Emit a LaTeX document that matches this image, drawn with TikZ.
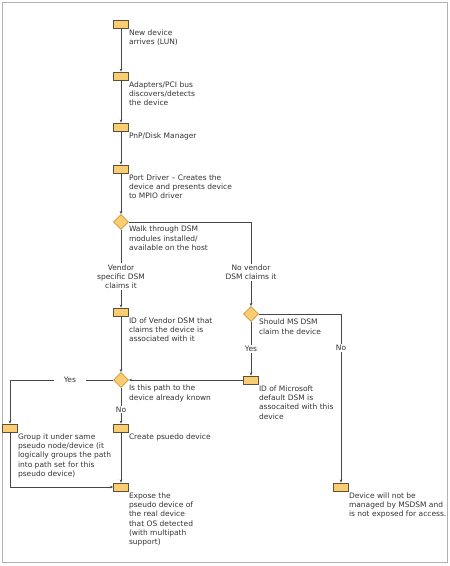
\documentclass[tikz,border=0pt]{standalone}
\usepackage{fontspec}
\newfontfamily\flowfont{DejaVu Sans}
\usetikzlibrary{shapes.geometric,arrows.meta}
\definecolor{boxfill}{RGB}{250,206,112}
\definecolor{boxline}{RGB}{95,80,55}
\definecolor{dialine}{RGB}{205,150,60}
\tikzset{
  stepbox/.style={draw=boxline,fill=boxfill,minimum width=15pt,minimum height=8pt,inner sep=0pt,line width=0.6pt},
  choice/.style={diamond,draw=dialine,fill=boxfill,minimum width=15pt,minimum height=15pt,inner sep=0pt,line width=0.6pt},
  txt/.style={anchor=north west,align=left,inner xsep=0pt,inner ysep=1pt,text=black!80,font=\flowfont\fontsize{7.5}{9.3}\selectfont},
  lbl/.style={fill=white,align=center,inner sep=1pt,text=black!80,font=\flowfont\fontsize{7.5}{9.3}\selectfont},
  flow/.style={draw=gray!55!black,line width=0.6pt}
}
\begin{document}
\begin{tikzpicture}[x=1pt,y=-1pt,>={Stealth[length=3.2pt,width=2.6pt]}]
  \useasboundingbox (0,0) rectangle (450,566);
  \draw[gray!60,line width=0.8pt] (2,2) rectangle (447,562);

  \node[stepbox] (new) at (121,24) {};
  \node[stepbox] (adapt) at (121,76) {};
  \node[stepbox] (pnp) at (121,127) {};
  \node[stepbox] (port) at (121,169) {};
  \node[choice] (walk) at (121,222) {};
  \node[stepbox] (vendorid) at (121,312) {};
  \node[choice] (msdsm) at (251,314) {};
  \node[stepbox] (msid) at (251,380) {};
  \node[choice] (known) at (121,380) {};
  \node[stepbox] (group) at (10,428) {};
  \node[stepbox] (create) at (121,428) {};
  \node[stepbox] (expose) at (121,487) {};
  \node[stepbox] (nomng) at (341,487) {};

  \node[txt] (newtxt) at (new.south east) {New device\\arrives (LUN)};
  \node[txt] (adapttxt) at (adapt.south east) {Adapters/PCI bus\\discovers/detects\\the device};
  \node[txt] (pnptxt) at (pnp.south east) {PnP/Disk Manager};
  \node[txt] (porttxt) at (port.south east) {Port Driver – Creates the\\device and presents device\\to MPIO driver};
  \node[txt] (walktxt) at ([yshift=-3pt]walk.east) {Walk through DSM\\modules installed/\\available on the host};
  \node[txt] (vendoridtxt) at (vendorid.south east) {ID of Vendor DSM that\\claims the device is\\associated with it};
  \node[txt] (msdsmtxt) at ([yshift=-4pt]msdsm.east) {Should MS DSM\\claim the device};
  \node[txt] (msidtxt) at (msid.south east) {ID of Microsoft\\default DSM is\\assocaited with this\\device};
  \node[txt] (knowntxt) at ([yshift=-4pt]known.east) {Is this path to the\\device already known};
  \node[txt] (grouptxt) at (group.south east) {Group it under same\\pseudo node/device (it\\logically groups the path\\into path set for this\\pseudo device)};
  \node[txt] (createtxt) at (create.south east) {Create psuedo device};
  \node[txt] (exposetxt) at (expose.south east) {Expose the\\pseudo device of\\the real device\\that OS detected\\(with multipath\\support)};
  \node[txt] (nomngtxt) at (nomng.south east) {Device will not be\\managed by MSDSM and\\is not exposed for access.};

  \draw[flow,->] (new) -- (adapt); \draw[flow,->] (adapt) -- (pnp);
  \draw[flow,->] (pnp) -- (port); \draw[flow,->] (port) -- (walk);
  \draw[flow,->] (walk) -- node[lbl,pos=0.6] {Vendor\\specific DSM\\claims it} (vendorid);
  \draw[flow,->] (walk.east) -| node[lbl,pos=0.8] {No vendor\\DSM claims it} (msdsm.north);
  \draw[flow,->] (vendorid) -- (known);
  \draw[flow,->] (msdsm) -- node[lbl] {Yes} (msid);
  \draw[flow,->] (msdsm.east) -| node[lbl,pos=0.6] {No} (nomng.north);
  \draw[flow,->] (msid) -- (known);
  \draw[flow,->] (known.west) -| node[lbl,pos=0.21,inner xsep=10pt] {Yes} (group.north);
  \draw[flow,->] (known) -- node[lbl,pos=0.6] {No} (create);
  \draw[flow,->] (create) -- (expose);
  \draw[flow,->] (group.south) |- (expose.west);
\end{tikzpicture}
\end{document}
